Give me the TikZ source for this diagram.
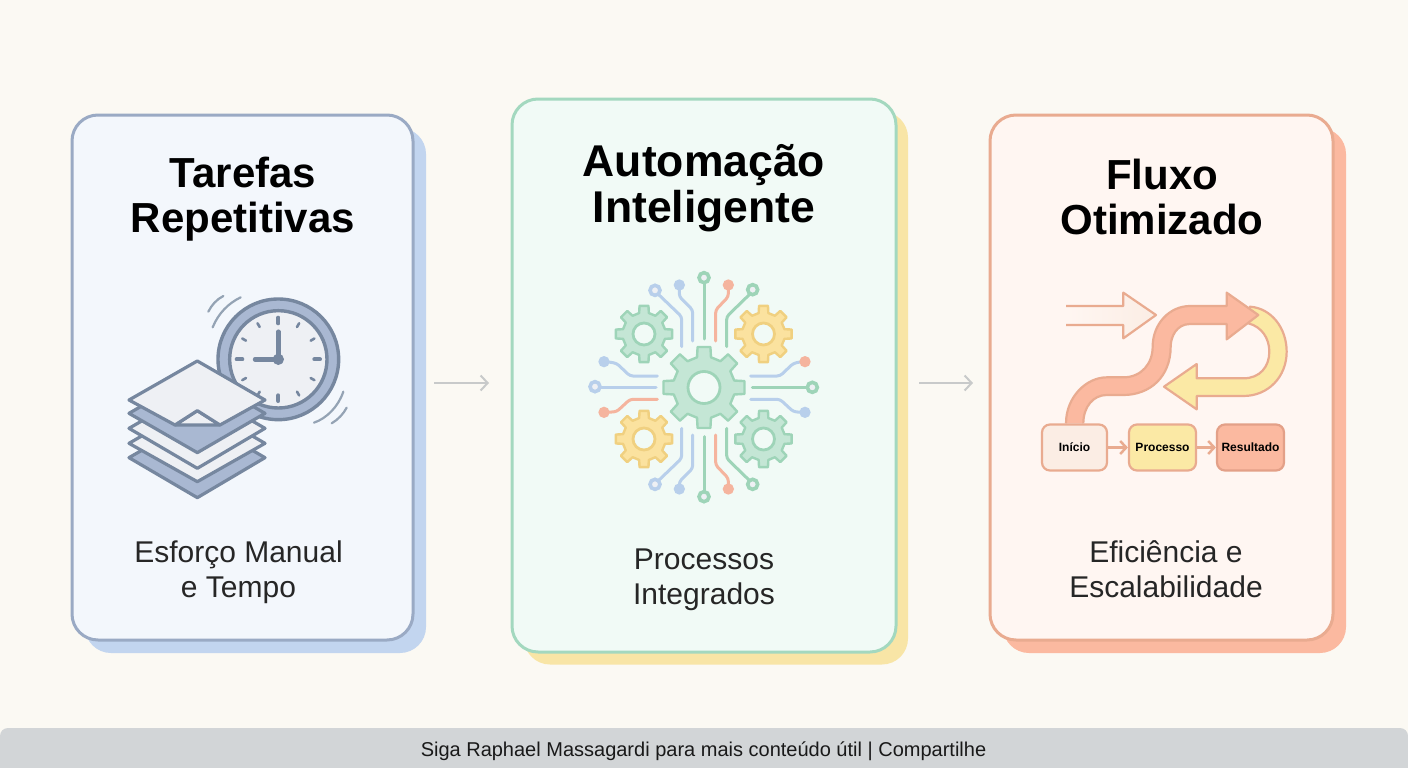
\documentclass[tikz,border=0pt]{standalone}
\usepackage{fontspec}
\setmainfont{Liberation Sans}
\usetikzlibrary{arrows.meta,calc}
\definecolor{bgc}{HTML}{FBF9F3}
\definecolor{footc}{HTML}{D2D5D7}
\definecolor{bluebd}{HTML}{9AAAC4}\definecolor{bluefl}{HTML}{F3F7FC}\definecolor{bluesh}{HTML}{C2D5EF}
\definecolor{greenbd}{HTML}{A3D8BF}\definecolor{greenfl}{HTML}{F1FAF6}\definecolor{yellowsh}{HTML}{F8E5A6}
\definecolor{redbd}{HTML}{E9AB90}\definecolor{redfl}{HTML}{FFF6F2}\definecolor{redsh}{HTML}{FBB9A0}
\definecolor{slate}{HTML}{76879F}\definecolor{slatefl}{HTML}{A9B8D2}\definecolor{paper}{HTML}{EEF0F4}\definecolor{swoosh}{HTML}{94A3B4}
\definecolor{tblue}{HTML}{B8CFEB}\definecolor{tgreen}{HTML}{9ED4B8}\definecolor{torange}{HTML}{F5B49E}
\definecolor{ggreen}{HTML}{C4E6D5}\definecolor{gyellow}{HTML}{FBE29F}\definecolor{gyellowbd}{HTML}{F0D080}
\definecolor{arrowgrey}{HTML}{C8CACA}
\definecolor{arrowpale}{HTML}{FBEDE4}\definecolor{uarrow}{HTML}{FBE9A5}\definecolor{resultbd}{HTML}{E3A088}
\tikzset{
  card/.style={draw=#1,line width=3pt,rounded corners=26pt,inner sep=0pt},
  castshadow/.style={fill=#1,rounded corners=26pt,inner sep=0pt},
  title/.style={font=\fontsize{42}{44.5}\selectfont\bfseries,align=center,text=black,inner sep=0pt},
  bigtitle/.style={font=\fontsize{44.5}{46}\selectfont\bfseries,align=center,text=black,inner sep=0pt},
  sub/.style={font=\fontsize{30}{35}\selectfont,align=center,text=black!85,inner sep=0pt},
  between/.style={draw=arrowgrey,line width=2pt,-{Straight Barb[length=7pt,width=15pt,line width=2pt]}},
  minibox/.style={draw=redbd,line width=2.2pt,rounded corners=8pt,minimum height=46pt,inner sep=0pt,font=\fontsize{12}{13}\selectfont\bfseries,text=black},
  miniarrow/.style={draw=redbd,line width=2.5pt,-{Straight Barb[length=6pt,width=13pt,line width=2.5pt]}},
  trace/.style={line width=3pt,line cap=round,line join=round,rounded corners=3pt},
  ring/.style={draw=#1,line width=3.6pt,fill=paper},
  sheet/.style={draw=slate,line width=3.2pt,line join=round,fill=#1},
  clocktick/.style={draw=slate,line width=2.6pt,line cap=round},
  bigtick/.style={draw=slate,line width=4pt,line cap=round},
  swooshline/.style={draw=swoosh,line width=2.2pt,line cap=round},
  flowline/.style={line width=2.2pt,line join=round},
}
\newcommand{\mygear}[8]{%
  \begin{scope}[shift={(#1,#2)}]
    \draw[draw=#8,fill=#7,line width=2.4pt,line join=round]
      (-13:#4)
      \foreach \a in {0,45,...,315}{ -- ({\a-13}:#4) -- ({\a-9}:#3) -- ({\a+9}:#3) -- ({\a+13}:#4) -- ({\a+32}:#4) }
      -- cycle;
    \draw[draw=#8,fill=greenfl,line width=2.8pt] (0,0) circle (#5);
  \end{scope}}
\begin{document}
\begin{tikzpicture}[x=1pt,y=-1pt]
\useasboundingbox (0,0) rectangle (1408,768);
\fill[bgc] (0,0) rectangle (1408,768);
\clip (0,0) rectangle (1408,768);
% footer
\path[fill=footc,rounded corners=8pt] (0,776) -- (0,728) -- (1408,728) -- (1408,776) -- cycle;
\node[inner sep=0pt,font=\fontsize{20}{22}\selectfont,text=black!90] (footer) at (703.5,751.5) {Siga Raphael Massagardi para mais conteúdo útil | Compartilhe};
% shadows + cards
\node[castshadow=bluesh,minimum width=341pt,minimum height=525pt] (s1) at (255.5,390.5) {};
\node[card=bluebd,fill=bluefl,minimum width=341pt,minimum height=525pt] (c1) at (242.5,377.5) {};
\node[castshadow=yellowsh,minimum width=384pt,minimum height=553pt] (s2) at (716,388) {};
\node[card=greenbd,fill=greenfl,minimum width=384pt,minimum height=553pt] (c2) at (704,375.5) {};
\node[castshadow=redsh,minimum width=343pt,minimum height=525pt] (s3) at (1174.5,390.5) {};
\node[card=redbd,fill=redfl,minimum width=343pt,minimum height=525pt] (c3) at (1161.5,377.5) {};
% titles
\node[title] (t1) at (243,199) {Tarefas\\Repetitivas};
\node[bigtitle] (t2) at (704,188.5) {Automação\\Inteligente};
\node[title] (t3) at (1162,197) {Fluxo\\Otimizado};
\node[sub] (d1) at (238.5,572) {Esforço Manual\\e Tempo};
\node[sub] (d2) at (704,580) {Processos\\Integrados};
\node[sub] (d3) at (1166,569.5) {Eficiência e\\Escalabilidade};
% between arrows
\coordinate (a1s) at (434,383);\coordinate (a1e) at (489,383);
\coordinate (a2s) at (919,383);\coordinate (a2e) at (973,383);
\draw[between] (a1s) -- (a1e);
\draw[between] (a2s) -- (a2e);
% ---- clock and papers
\begin{scope}[shift={(110,280)},x=0.33333pt,y=-0.33333pt]
  \draw[draw=slate,line width=3.4pt,fill=slatefl] (505,238) circle (181);
  \draw[draw=slate,line width=3.4pt,fill=paper] (505,238) circle (146);
  \foreach \a in {0,90,180,270}
    \draw[bigtick] ($(505,238)+(\a:108)$) -- ($(505,238)+(\a:125)$);
  \foreach \a in {30,60,120,150,210,240,300,330}
    \draw[clocktick] ($(505,238)+(\a:112)$) -- ($(505,238)+(\a:125)$);
  \draw[draw=slate,line width=4.4pt,line cap=round] (505,238) -- (505,155);
  \draw[draw=slate,line width=4.4pt,line cap=round] (505,238) -- (435,238);
  \fill[slate] (505,238) circle (17);
  \draw[swooshline] (295,95) .. controls (305,75) and (320,58) .. (340,48);
  \draw[swooshline] (308,142) .. controls (325,100) and (355,70) .. (392,52);
  \draw[swooshline] (612,428) .. controls (650,415) and (685,380) .. (700,335);
  \draw[swooshline] (665,430) .. controls (685,418) and (700,402) .. (710,383);
  \draw[sheet=slatefl] (57,533) -- (262,415) -- (465,533) -- (262,653) -- cycle;
  \draw[sheet=paper] (57,490) -- (262,372) -- (465,490) -- (262,605) -- cycle;
  \draw[sheet=paper] (57,445) -- (262,327) -- (465,445) -- (262,565) -- cycle;
  \draw[sheet=slatefl] (57,400) -- (262,282) -- (465,400) -- (262,518) -- cycle;
  \draw[sheet=paper] (195,435) -- (262,392) -- (330,435) -- cycle;
  \draw[sheet=paper] (262,243) -- (465,360) -- (330,435) -- (262,392) -- (195,435) -- (57,360) -- cycle;
\end{scope}
% ---- circuit
\begin{scope}[shift={(580,265)},x=0.33333pt,y=-0.33333pt]
  \draw[trace,tgreen] (372,222) -- (372,50);
  \draw[trace,tblue] (338,228) -- (338,135) -- (298,95) -- (298,65);
  \draw[trace,tblue] (305,245) -- (305,155) -- (232,85);
  \draw[trace,torange] (407,228) -- (407,135) -- (445,95) -- (445,65);
  \draw[trace,tgreen] (440,245) -- (440,155) -- (512,85);
  \draw[trace,tgreen] (372,515) -- (372,685);
  \draw[trace,tblue] (338,510) -- (338,610) -- (298,650) -- (298,665);
  \draw[trace,tblue] (305,490) -- (305,580) -- (232,650);
  \draw[trace,torange] (407,510) -- (407,600) -- (445,640) -- (445,665);
  \draw[trace,tgreen] (440,490) -- (440,580) -- (512,650);
  \draw[trace,tblue] (228,367) -- (60,367);
  \draw[trace,tblue] (232,333) -- (150,333) -- (110,295) -- (80,290);
  \draw[trace,torange] (232,403) -- (150,403) -- (110,440) -- (80,442);
  \draw[trace,tgreen] (517,367) -- (685,367);
  \draw[trace,tblue] (512,333) -- (600,333) -- (640,295) -- (665,290);
  \draw[trace,tblue] (512,403) -- (600,403) -- (640,440) -- (665,442);
  \draw[ring=tgreen] (372,38) circle (15);
  \draw[ring=tgreen] (372,695) circle (15);
  \draw[ring=tblue] (225,76) circle (15);
  \draw[ring=tblue] (225,658) circle (15);
  \draw[ring=tgreen] (518,74) circle (15);
  \draw[ring=tgreen] (518,658) circle (15);
  \draw[ring=tblue] (45,365) circle (15);
  \draw[ring=tgreen] (697,367) circle (15);
  \fill[tblue] (298,60) circle (17);
  \fill[tblue] (298,672) circle (17);
  \fill[torange] (445,60) circle (17);
  \fill[torange] (445,672) circle (17);
  \fill[tblue] (72,290) circle (17);
  \fill[torange] (72,442) circle (17);
  \fill[torange] (675,290) circle (17);
  \fill[tblue] (675,442) circle (17);
\end{scope}
\mygear{704}{387.5}{41}{31}{16}{8}{ggreen}{tgreen}
\mygear{644}{334}{28.5}{21.5}{11}{8}{ggreen}{tgreen}
\mygear{763.5}{334}{28.5}{21.5}{11}{8}{gyellow}{gyellowbd}
\mygear{644}{439}{28.5}{21.5}{11}{8}{gyellow}{gyellowbd}
\mygear{763.5}{439}{28.5}{21.5}{11}{8}{ggreen}{tgreen}
% ---- flow
\begin{scope}[shift={(1030,280)},x=0.33333pt,y=-0.33333pt]
  \shade[left color=redfl,right color=arrowpale] (108,78) -- (280,78) -- (280,38) -- (378,105) -- (280,175) -- (280,135) -- (108,135) -- cycle;
  \draw[flowline,draw=redbd] (108,78) -- (280,78) -- (280,38) -- (378,105) -- (280,175) -- (280,135) -- (108,135);
  \draw[flowline,draw=redbd,fill=uarrow]
    (402,320) -- (500,252) -- (500,295) -- (640,295)
    .. controls (690,295) and (718,260) .. (718,215)
    .. controls (718,175) and (695,140) .. (655,130)
    -- (660,80)
    .. controls (725,85) and (770,145) .. (770,215)
    .. controls (770,290) and (715,348) .. (640,348)
    -- (500,348) -- (500,388) -- cycle;
  \draw[flowline,draw=redbd,fill=redsh]
    (108,430)
    .. controls (108,350) and (170,292) .. (230,292)
    -- (280,292)
    .. controls (335,292) and (368,250) .. (368,200)
    .. controls (368,130) and (420,78) .. (480,78)
    -- (590,78) -- (590,38) -- (685,105) -- (590,178) -- (590,132) -- (480,132)
    .. controls (440,132) and (422,170) .. (422,200)
    .. controls (422,290) and (360,345) .. (280,345)
    -- (230,345)
    .. controls (190,345) and (160,380) .. (160,430);
\end{scope}
\node[minibox,fill=arrowpale,minimum width=65pt] (b1) at (1074.5,447.5) {Início};
\node[minibox,fill=uarrow,minimum width=67pt] (b2) at (1162.5,447.5) {Processo};
\node[minibox,draw=resultbd,fill=redsh,minimum width=67pt] (b3) at (1250.5,447.5) {Resultado};
\draw[miniarrow] (b1) -- (b2);
\draw[miniarrow] (b2) -- (b3);
\end{tikzpicture}
\end{document}
